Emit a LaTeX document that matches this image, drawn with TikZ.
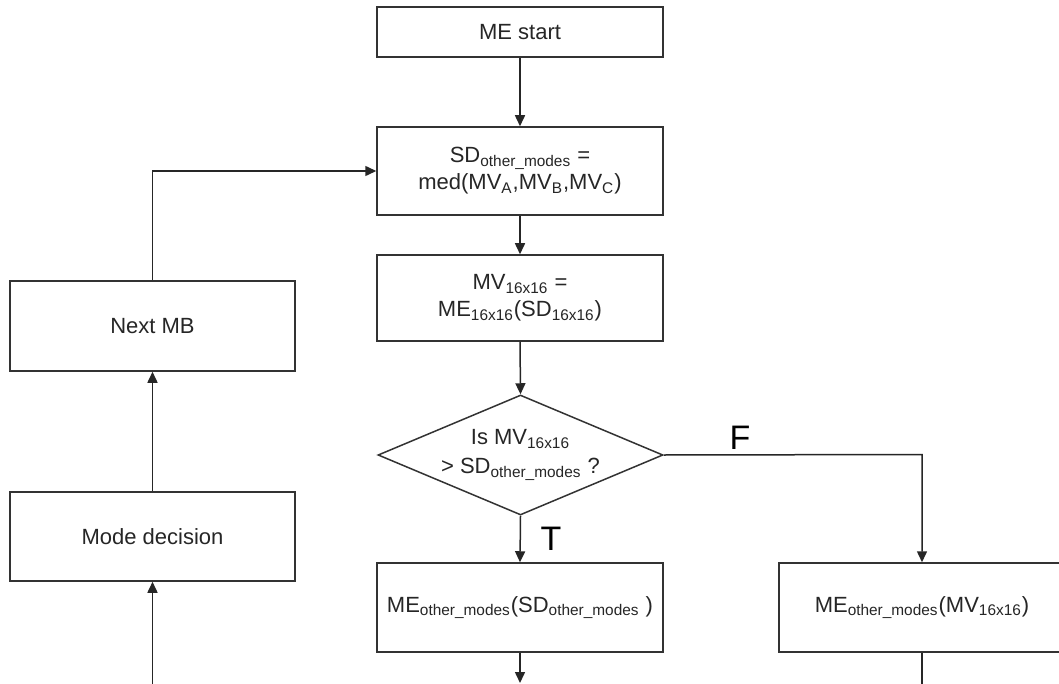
\documentclass[tikz,border=0pt]{standalone}
\usepackage{fontspec}
\setmainfont{Liberation Sans}
\usetikzlibrary{arrows.meta,shapes.geometric}
\begin{document}
\begin{tikzpicture}[x=0.5pt,y=-0.5pt,
  box/.style={draw=black!80, line width=0.75pt, minimum width=143pt, inner sep=0pt, align=center, text=black!85, font=\fontsize{11}{13.5}\selectfont},
  lbl/.style={inner sep=0pt, align=center, text=black!85, font=\fontsize{11}{13.5}\selectfont},
  conn/.style={draw=black!85, line width=0.75pt},
  arr/.style={conn, -{Triangle[length=5.5pt,width=5pt]}},
  tf/.style={inner sep=0pt, text=black, font=\fontsize{17}{20}\selectfont}]
\useasboundingbox (0,0) rectangle (1059,684);
\fill[white] (0,0) rectangle (1059,684);
% boxes
\node[box, minimum height=25pt] (start) at (520,32) {ME start};
\node[box, minimum height=44pt] (sd) at (520,171) {SD\textsubscript{other\_modes} =\\med(MV\textsubscript{A},MV\textsubscript{B},MV\textsubscript{C})};
\node[box, minimum height=43pt] (mv) at (520,298) {MV\textsubscript{16x16} =\\ME\textsubscript{16x16}(SD\textsubscript{16x16})};
\node[draw=black!80, line width=0.75pt, diamond, minimum width=142.5pt, minimum height=60pt, inner sep=0pt] (dec) at (520.5,455) {};
\node[lbl] (dect) at (dec.center) {Is MV\textsubscript{16x16}\\[1pt]> SD\textsubscript{other\_modes} ?};
\node[box, minimum height=44.5pt] (bl) at (520,607.5) {ME\textsubscript{other\_modes}(SD\textsubscript{other\_modes} )};
\node[box, minimum height=44.5pt] (br) at (922,607.5) {ME\textsubscript{other\_modes}(MV\textsubscript{16x16})};
\node[box, minimum width=142.5pt, minimum height=45pt] (nmb) at (152.5,326) {Next MB};
\node[box, minimum width=142.5pt, minimum height=44.5pt] (md) at (152.5,536.5) {Mode decision};
% free ends
\coordinate (blend) at (520,683);
\coordinate (brend) at (922,684);
\coordinate (mdstart) at (152.5,684);
\coordinate (fcorner) at (922,454.5);
% connectors
\draw[arr] (start.south) -- (sd.north);
\draw[arr] (sd.south) -- (mv.north);
\draw[arr] (mv.south) -- (dec.north);
\draw[arr] (dec.south) -- (bl.north);
\draw[arr] (dec.east) -- (fcorner) -- (br.north);
\draw[arr] (bl.south) -- (blend);
\draw[conn] (br.south) -- (brend);
\draw[arr] (mdstart) -- (md.south);
\draw[arr] (md.north) -- (nmb.south);
\draw[arr] (nmb.north) |- (sd.west);
% labels
\node[tf] (tlab) at (551,539) {T};
\node[tf] (flab) at (740,438) {F};
\end{tikzpicture}
\end{document}
